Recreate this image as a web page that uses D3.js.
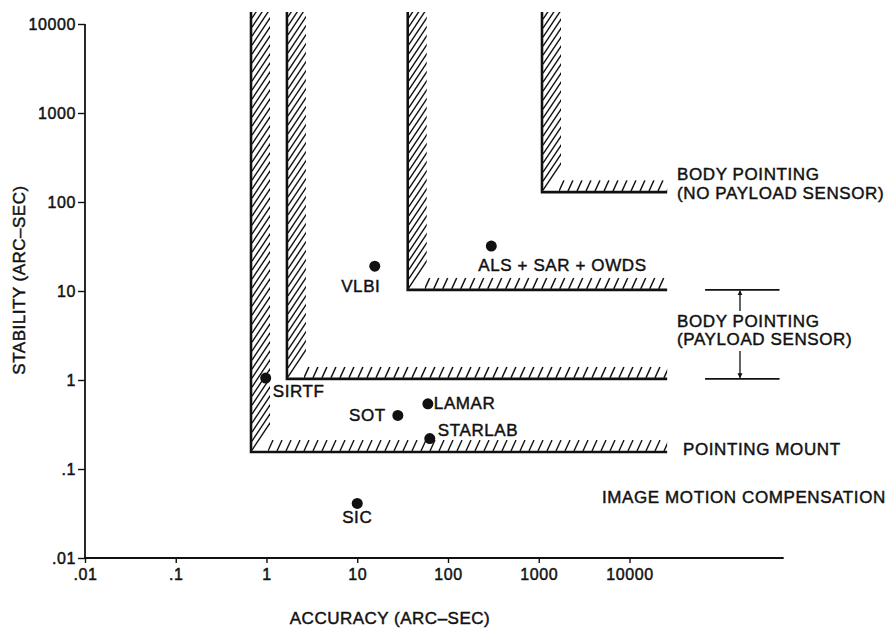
<!DOCTYPE html>
<html><head><meta charset="utf-8">
<script src="https://cdn.jsdelivr.net/npm/d3@7"></script>
<style>
body{margin:0;background:#fff}
svg text{font-family:"Liberation Sans",Arial,Helvetica,sans-serif;fill:#111;stroke:#111;stroke-width:0.45px}
</style>
</head><body>
<svg id="c" width="885" height="629"></svg>
<script>
// ---------- data ----------
const xTickValues = [0.01, 0.1, 1, 10, 100, 1000, 10000];
const xTickLabels = [".01", ".1", "1", "10", "100", "1000", "10000"];
const yTickValues = [0.01, 0.1, 1, 10, 100, 1000, 10000];
const yTickLabels = [".01", ".1", "1", "10", "100", "1000", "10000"];

const missions  = ["VLBI", "ALS + SAR + OWDS", "SIRTF", "SOT", "LAMAR", "STARLAB", "SIC"];
const accuracy  = [15.6, 300, 0.98, 28, 60, 63, 10];
const stability = [19, 32, 1.05, 0.40, 0.54, 0.22, 0.041];

// hatched boundaries (corner accuracy / stability, arc-sec)
const boundaryNames     = ["POINTING MOUNT", "BODY POINTING (PAYLOAD SENSOR) LOW", "BODY POINTING (PAYLOAD SENSOR) HIGH", "BODY POINTING (NO PAYLOAD SENSOR)"];
const boundaryAccuracy  = [0.675, 1.68, 36, 1086];
const boundaryStability = [0.155, 1.03, 10.3, 129];
const boundaryAccuracyEnd = 26000;
const boundaryStabilityTop = 13600;
const axisAccuracyEnd = 500000;

const bracketAccuracy = [68000, 450000];
const bracketArrowAccuracy = 165000;
const bracketStability = [10.3, 1.03];

const xTitle = "ACCURACY (ARC\u2013SEC)";
const yTitle = "STABILITY (ARC\u2013SEC)";

// ---------- layout ----------
const svg = d3.select("#c");
const x = d3.scaleLog().domain([0.01, 10000]).range([85, 629.5]);
const y = d3.scaleLog().domain([0.01, 10000]).range([558, 24]);
const FS = 17;

// axes
const gx = svg.append("g").attr("transform", `translate(0,${y(0.01)})`)
  .call(d3.axisBottom(x).tickValues(xTickValues).tickFormat((d, i) => xTickLabels[i])
        .tickSize(5).tickSizeOuter(0).tickPadding(6));
gx.select(".domain").remove();
gx.append("line").attr("x1", x(0.01) - 1).attr("x2", x(axisAccuracyEnd))
  .attr("stroke", "#111").attr("stroke-width", 1.8);
gx.selectAll(".tick line").attr("stroke", "#111").attr("stroke-width", 1.4);
gx.selectAll(".tick text").attr("font-size", 16).attr("letter-spacing", 0.6).attr("font-family", null);

const gy = svg.append("g").attr("transform", `translate(${x(0.01)},0)`)
  .call(d3.axisLeft(y).tickValues(yTickValues).tickFormat((d, i) => yTickLabels[i])
        .tickSize(7).tickSizeOuter(0).tickPadding(2));
gy.select(".domain").remove();
gy.append("line").attr("y1", y(10000)).attr("y2", y(0.01) + 1)
  .attr("stroke", "#111").attr("stroke-width", 1.8);
gy.selectAll(".tick line").attr("stroke", "#111").attr("stroke-width", 1.4);
gy.selectAll(".tick text").attr("font-size", 16).attr("letter-spacing", 0.6).attr("font-family", null);

// axis titles
svg.append("text").attr("x", 390).attr("y", 624).attr("text-anchor", "middle")
  .attr("font-size", 17).attr("letter-spacing", 0.5).text(xTitle);
svg.append("text").attr("transform", `translate(25,280) rotate(-90)`).attr("text-anchor", "middle")
  .attr("font-size", 17).attr("letter-spacing", 0.5).text(yTitle);

// hatched L boundaries
const defs = svg.append("defs");
const bw = 19, bh = 12;
boundaryAccuracy.forEach((ax, i) => {
  const xv = x(ax), yh = y(boundaryStability[i]);
  const xe = x(boundaryAccuracyEnd), yt = y(boundaryStabilityTop);
  const g = svg.append("g");
  // vertical band hatch
  const cv = "cv" + i;
  defs.append("clipPath").attr("id", cv).append("rect")
    .attr("x", xv).attr("y", yt).attr("width", bw).attr("height", yh - yt);
  const vg = g.append("g").attr("clip-path", `url(#${cv})`);
  const vStarts = d3.range(yh - 2, yt - 40, -9);
  vg.selectAll("line").data(vStarts).join("line")
    .attr("x1", xv + 1).attr("y1", d => d)
    .attr("x2", xv + bw + 2).attr("y2", d => d - 30)
    .attr("stroke", "#111").attr("stroke-width", 1.4);
  // horizontal band hatch
  const ch = "ch" + i;
  defs.append("clipPath").attr("id", ch).append("rect")
    .attr("x", xv + bw - 2).attr("y", yh - bh).attr("width", xe - xv - bw + 2).attr("height", bh);
  const hg = g.append("g").attr("clip-path", `url(#${ch})`);
  const hStarts = d3.range(xv + bw - 2, xe, 9);
  hg.selectAll("line").data(hStarts).join("line")
    .attr("x1", d => d).attr("y1", yh - 1)
    .attr("x2", d => d + 5).attr("y2", yh - bh)
    .attr("stroke", "#111").attr("stroke-width", 1.4);
  // boundary line
  g.append("path").attr("d", `M${xv},${yt}V${yh}H${xe}`)
    .attr("fill", "none").attr("stroke", "#111").attr("stroke-width", 2.6)
    .attr("stroke-linejoin", "miter").attr("stroke-linecap", "butt");
});

// bracket for payload-sensor body pointing
svg.append("defs").append("marker").attr("id", "ah").attr("viewBox", "0 0 10 10")
  .attr("refX", 9).attr("refY", 5).attr("markerWidth", 5).attr("markerHeight", 7)
  .attr("markerUnits", "userSpaceOnUse").attr("orient", "auto")
  .append("path").attr("d", "M0,0L10,5L0,10Z").attr("fill", "#111");
bracketStability.forEach(s => {
  svg.append("line").attr("x1", x(bracketAccuracy[0])).attr("x2", x(bracketAccuracy[1]))
    .attr("y1", y(s)).attr("y2", y(s)).attr("stroke", "#111").attr("stroke-width", 1.8);
});
const ax = x(bracketArrowAccuracy);
svg.append("line").attr("x1", ax).attr("x2", ax).attr("y1", 311).attr("y2", y(bracketStability[0]) + 1)
  .attr("stroke", "#111").attr("stroke-width", 1.3).attr("marker-end", "url(#ah)");
svg.append("line").attr("x1", ax).attr("x2", ax).attr("y1", 351).attr("y2", y(bracketStability[1]) - 1)
  .attr("stroke", "#111").attr("stroke-width", 1.3).attr("marker-end", "url(#ah)");

// region annotations
const ann = svg.append("g").attr("font-size", FS).attr("letter-spacing", 0.6);
const yNo = y(boundaryStability[3]);
ann.append("text").attr("x", 677).attr("y", yNo - 12).text("BODY POINTING");
ann.append("text").attr("x", 677).attr("y", yNo + 7).text("(NO PAYLOAD SENSOR)");
ann.append("text").attr("x", 677).attr("y", 327).text("BODY POINTING");
ann.append("text").attr("x", 677).attr("y", 345).text("(PAYLOAD SENSOR)");
ann.append("text").attr("x", 683).attr("y", y(boundaryStability[0]) + 3).text("POINTING MOUNT");
ann.append("text").attr("x", 602).attr("y", 503).text("IMAGE MOTION COMPENSATION");

// mission points
const labelOffset = {
  "VLBI": [-14, 26, "middle"],
  "ALS + SAR + OWDS": [-13, 25, "start"],
  "SIRTF": [7, 19, "start"],
  "SOT": [-12, 5.5, "end"],
  "LAMAR": [6, 5.5, "start"],
  "STARLAB": [8, -2.5, "start"],
  "SIC": [0, 20, "middle"]
};
const pts = missions.map((m, i) => ({ name: m, a: accuracy[i], s: stability[i] }));
const pg = svg.append("g");
pg.selectAll("circle").data(pts).join("circle")
  .attr("cx", d => x(d.a)).attr("cy", d => y(d.s)).attr("r", 5.5).attr("fill", "#111");
pg.selectAll("text").data(pts).join("text")
  .attr("x", d => x(d.a) + labelOffset[d.name][0])
  .attr("y", d => y(d.s) + labelOffset[d.name][1])
  .attr("text-anchor", d => labelOffset[d.name][2])
  .attr("font-size", FS).attr("letter-spacing", 0.6)
  .text(d => d.name);
</script>
</body></html>
